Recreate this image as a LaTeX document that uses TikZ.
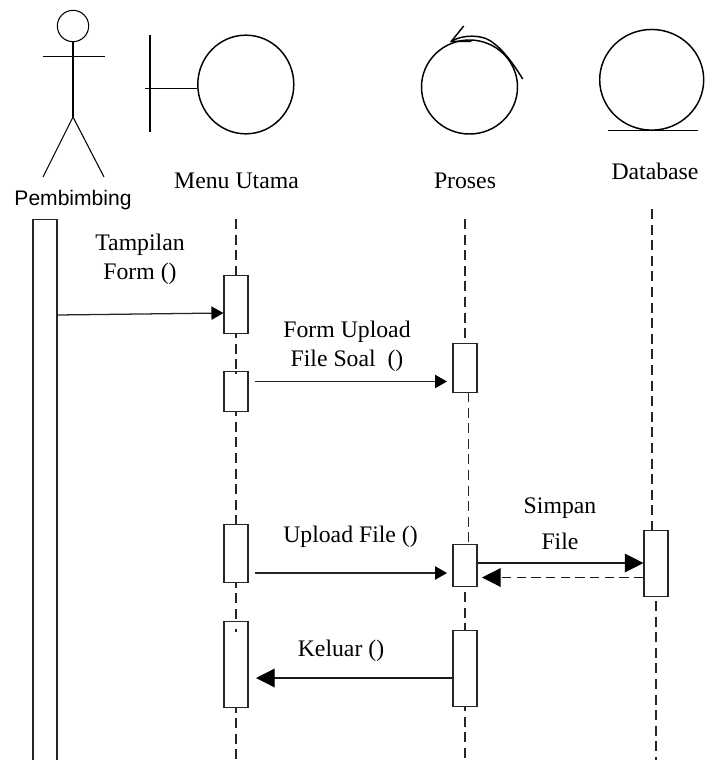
\documentclass[tikz,border=0pt]{standalone}
\usepackage{fontspec}
\setmainfont{Liberation Serif}
\newfontfamily\labelsans{Liberation Sans}
\usetikzlibrary{arrows.meta,positioning,calc,shapes.geometric}
\tikzset{
  lifeline/.style={draw=black!85, line width=0.85pt, dash pattern=on 7.5pt off 4.2pt},
  activation/.style={draw=black!85, fill=white, line width=0.85pt, minimum width=18pt, inner sep=0pt, anchor=north},
  icon/.style={draw=black, line width=1.1pt},
  iconround/.style={icon, ellipse, inner sep=0pt},
  stick/.style={draw=black, line width=0.8pt},
  flow/.style={-{Triangle[length=9pt,width=10pt,color=black]}, draw=black!85, line width=0.95pt},
  bigflow/.style={-{Triangle[length=14pt,width=14pt,color=black]}, draw=black!90, line width=0.95pt},
  label/.style={font=\fontsize{17.8}{21.5}\selectfont, align=center, inner sep=0pt}
}
\begin{document}
\begin{tikzpicture}[x=0.75pt,y=-0.75pt]
  \useasboundingbox (0,0) rectangle (704,760);

  % actors
  \node[stick, circle, minimum size=23.5pt, inner sep=0pt] (head) at (73,26) {};
  \coordinate (hip) at (73,117);
  \coordinate (armL) at (42.5,56.2);
  \coordinate (armR) at (104.5,56.2);
  \coordinate (footL) at (43,177);
  \coordinate (footR) at (104,177);
  \draw[stick] (head.south) -- (hip);
  \draw[stick] (armL) -- (armR);
  \draw[stick] (footL) -- (hip) -- (footR);
  \node[font=\labelsans\fontsize{15.8}{19}\selectfont, inner sep=0pt] (pembimbing) at (73,200) {Pembimbing};

  \node[iconround, minimum width=72pt, minimum height=74pt] (menuicon) at (245.8,84.5) {};
  \coordinate (barT) at (150,35);
  \coordinate (barB) at (150,132);
  \coordinate (barL) at (144.5,88.5);
  \draw[icon] (barT) -- (barB);
  \draw[icon] (barL) -- (menuicon.west |- barL);
  \node[label] (menu) at (236.5,181) {Menu Utama};

  \node[iconround, minimum width=72pt, minimum height=70.5pt] (prosesicon) at (469.5,87) {};
  \coordinate (tipA) at (463.7,26);
  \coordinate (tipB) at (451.3,41.4);
  \coordinate (tipC) at (471.3,41.4);
  \coordinate (tipD) at (522.7,79);
  \draw[icon] (tipA) -- (tipB) -- (tipC);
  \draw[icon] (tipB) .. controls (460,36) and (474,34.5) .. (485.3,38.3) .. controls (497,43) and (510,58) .. (tipD);
  \node[label] (proses) at (465,181) {Proses};

  \node[iconround, minimum width=78pt, minimum height=75.5pt] (dbicon) at (651.7,79.8) {};
  \coordinate (dbL) at (608,130.5);
  \coordinate (dbR) at (698,130.5);
  \draw[icon] (dbL) -- (dbR);
  \node[label] (database) at (655,171) {Database};

  % lifelines
  \coordinate (menutop) at (236,219);
  \coordinate (menubot) at (236,760);
  \coordinate (prosestop) at (465,219);
  \coordinate (prosesbot) at (465,760);
  \coordinate (dbtop) at (652,209);
  \coordinate (dbbot) at (656,760);
  \draw[lifeline] (menutop) -- (menubot);
  \draw[lifeline] (prosestop) -- (465,343);
  \draw[lifeline] (468.1,392) -- (468.1,544);
  \draw[lifeline] (465,592) -- (prosesbot);
  \draw[lifeline] (dbtop) -- (652,530);
  \draw[lifeline] (656,601) -- (dbbot);

  % activation boxes
  \node[activation, minimum height=558pt] (actor) at (45,219) {};
  \node[activation, minimum height=43.5pt] (m1) at (236,274.5) {};
  \node[activation, minimum height=30pt] (m2) at (236,370.5) {};
  \node[activation, minimum height=43.5pt] (m3) at (236,524) {};
  \node[activation, minimum height=65pt] (m4) at (236,620.5) {};
  \node[activation, minimum height=36.5pt] (p1) at (465,343) {};
  \node[activation, minimum height=31.5pt] (p2) at (465,544) {};
  \node[activation, minimum height=57pt] (p3) at (465,630) {};
  \node[activation, minimum height=50pt] (d1) at (656,529.5) {};
  \draw[lifeline, solid] (m2.north) -- ++(0,3);
  \draw[lifeline, solid] ($(m4.north)+(0,8)$) -- ++(0,3);

  % messages
  \coordinate (m2out) at (255,381.5);
  \coordinate (m3out) at (255,573);
  \coordinate (p2in) at (447,573);
  \coordinate (p1in) at (447,381.5);
  \coordinate (m4in) at (256,678);
  \coordinate (p2ret) at (482,577.5);
  \draw[flow] (actor.east |- 0,315) -- (m1.west |- 0,313);
  \draw[flow] (m2out) -- (p1in);
  \draw[flow] (m3out) -- (p2in);
  \draw[bigflow] (p2.east |- 0,563) -- (d1.west |- 0,563);
  \draw[bigflow, dash pattern=on 7pt off 4pt] (d1.west |- p2ret) -- (p2ret);
  \draw[bigflow] (p3.west |- m4in) -- (m4in);

  % message labels
  \node[label] (tampilan) at (140,259) {Tampilan\\Form ()};
  \node[label] (formupload) at (347,346.5) {Form Upload\\File Soal\ \ ()};
  \node[label] (uploadfile) at (350.5,536.5) {Upload File ()};
  \node[label] (simpan) at (560,508) {Simpan};
  \node[label] (file) at (560,541.5) {File};
  \node[label] (keluar) at (341,650.5) {Keluar ()};
\end{tikzpicture}
\end{document}
